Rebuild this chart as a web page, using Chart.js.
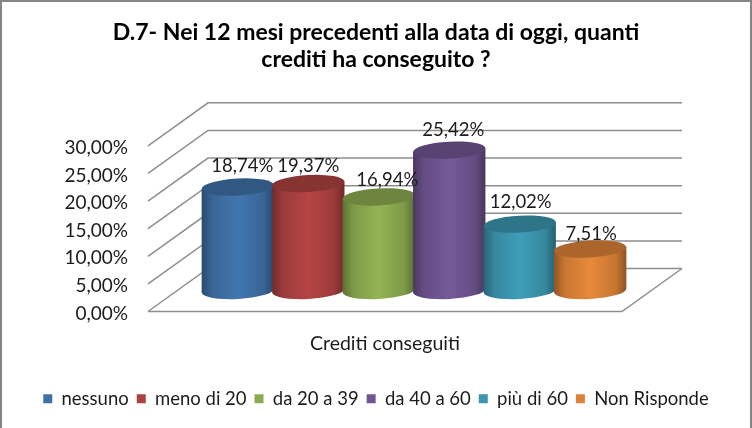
<!DOCTYPE html>
<html>
<head>
<meta charset="utf-8">
<style>
html, body { margin: 0; padding: 0; background: #fff; }
#wrap { width: 752px; height: 428px; }
</style>
<script src="https://cdn.jsdelivr.net/npm/chart.js@4/dist/chart.umd.min.js"></script>
</head>
<body>
<div id="wrap"><canvas id="chart" width="752" height="428"></canvas></div>
<script>
const titleLines = ['D.7- Nei 12 mesi precedenti alla data di oggi, quanti', 'crediti ha conseguito ?'];
const categories = ['Crediti conseguiti'];
const seriesNames = ['nessuno', 'meno di 20', 'da 20 a 39', 'da 40 a 60', 'più di 60', 'Non Risponde'];
const seriesValues = [18.74, 19.37, 16.94, 25.42, 12.02, 7.51];
const seriesColors = ['#3f70a8', '#ac4240', '#8cab50', '#705592', '#3c96b0', '#dd8338'];
const tickValues = [0, 5, 10, 15, 20, 25, 30];

const FONT = 'Lato, "Noto Sans", sans-serif';
const GRID = '#8e8e8e';
const fmt = v => v.toFixed(2).replace('.', ',') + '%';

// scurisce o schiarisce un colore esadecimale
function shade(hex, f) {
    const n = parseInt(hex.slice(1), 16);
    const c = [n >> 16, (n >> 8) & 255, n & 255].map(v => Math.min(255, Math.round(v * f)));
    return `rgb(${c[0]},${c[1]},${c[2]})`;
}

// finto 3D: pareti, griglia e cilindri
const depth = { dx: 60, dy: -43, barDx: 29, barDy: -21 };
const tilt = -0.055;
// spostamento delle etichette rispetto al centro del cilindro
const labelShiftX = [4.5, 0, 8.5, 4, 1, 1];
const labelShiftY = [-21, -17.5, -17, -20, -22, -15];

const fake3d = {
    id: 'fake3d',
    beforeDatasetsDraw(chart) {
        const { ctx, chartArea: a, scales: { y } } = chart;
        ctx.save();
        ctx.strokeStyle = GRID;
        ctx.lineWidth = 1.5;
        tickValues.forEach(v => {
            const py = y.getPixelForValue(v);
            ctx.beginPath();
            ctx.moveTo(a.left, py);
            ctx.lineTo(a.left + depth.dx, py + depth.dy);
            ctx.lineTo(a.right + depth.dx, py + depth.dy);
            ctx.stroke();
        });
        // pavimento
        const p0 = y.getPixelForValue(0);
        ctx.beginPath();
        ctx.moveTo(a.left, p0);
        ctx.lineTo(a.right, p0);
        ctx.lineTo(a.right + depth.dx, p0 + depth.dy);
        ctx.stroke();

        chart.data.datasets.forEach((ds, i) => {
            drawCylinder(ctx, chart.getDatasetMeta(i).data[0], seriesColors[i]);
        });
        chart.data.datasets.forEach((ds, i) => {
            const bar = chart.getDatasetMeta(i).data[0];
            ctx.font = '18.5px ' + FONT;
            ctx.fillStyle = '#1c1c1c';
            ctx.textAlign = 'center';
            ctx.textBaseline = 'middle';
            ctx.fillText(fmt(ds.data[0]), bar.x + depth.barDx + labelShiftX[i], bar.y + depth.barDy + labelShiftY[i]);
        });
        ctx.restore();
        return false;
    },
    afterDraw(chart) {
        const { ctx, width, height } = chart;
        ctx.save();
        ctx.strokeStyle = '#868686';
        ctx.lineWidth = 2;
        ctx.strokeRect(1, 1, width - 2, height + 4);
        ctx.restore();
    }
};

function drawCylinder(ctx, bar, color) {
    const cx = bar.x + depth.barDx;
    const top = bar.y + depth.barDy;
    const bottom = bar.base + depth.barDy;
    const rx = bar.width / 2 + 1;
    const ry = 8.5;
    const sx = rx * Math.cos(tilt), sy = rx * Math.sin(tilt);

    const g = ctx.createLinearGradient(cx - rx, 0, cx + rx, 0);
    g.addColorStop(0, shade(color, 0.66));
    g.addColorStop(0.15, shade(color, 0.9));
    g.addColorStop(0.5, shade(color, 1.05));
    g.addColorStop(0.85, shade(color, 0.9));
    g.addColorStop(1, shade(color, 0.64));

    ctx.beginPath();
    ctx.moveTo(cx - sx, top - sy);
    ctx.lineTo(cx - sx, bottom - sy);
    ctx.ellipse(cx, bottom, rx, ry, tilt, Math.PI, 0, true);
    ctx.lineTo(cx + sx, top + sy);
    ctx.closePath();
    ctx.fillStyle = g;
    ctx.fill();

    ctx.beginPath();
    ctx.ellipse(cx, top, rx, ry, tilt, 0, Math.PI * 2);
    ctx.fillStyle = shade(color, 0.78);
    ctx.fill();
}

new Chart(document.getElementById('chart'), {
    type: 'bar',
    data: {
        labels: categories,
        datasets: seriesNames.map((name, i) => ({
            label: name,
            data: [seriesValues[i]],
            backgroundColor: seriesColors[i],
            borderWidth: 0
        }))
    },
    options: {
        responsive: false,
        animation: false,
        devicePixelRatio: 1,
        categoryPercentage: 0.892,
        barPercentage: 1,
        layout: { padding: { top: 9, right: 0, bottom: 10, left: 0 } },
        scales: {
            x: {
                grid: { display: false },
                border: { display: false },
                ticks: { font: { family: FONT, size: 19.5 }, color: '#1c1c1c', padding: 13 },
                afterFit: s => { s.height = 70; }
            },
            y: {
                min: 0,
                max: 30,
                grid: { display: false },
                border: { display: false },
                ticks: {
                    stepSize: 5,
                    padding: 12,
                    labelOffset: 2,
                    font: { family: FONT, size: 19 },
                    color: '#1c1c1c',
                    callback: v => fmt(v)
                },
                afterFit: s => { s.width = 148; }
            },
            // asse vuoto: tiene libero il margine destro per la parete di fondo
            spacer: {
                position: 'right',
                grid: { display: false },
                border: { display: false },
                ticks: { display: false },
                afterFit: s => { s.width = 130; }
            }
        },
        plugins: {
            tooltip: { enabled: false },
            title: {
                display: true,
                text: titleLines,
                color: '#000',
                font: { family: FONT, size: 23, weight: 'bold', lineHeight: 1.17 },
                padding: { top: 10, bottom: 73 }
            },
            legend: {
                position: 'bottom',
                labels: {
                    boxWidth: 9,
                    boxHeight: 9,
                    padding: 8,
                    color: '#1c1c1c',
                    font: { family: FONT, size: 18.5 }
                }
            }
        }
    },
    plugins: [fake3d]
});
</script>
</body>
</html>
